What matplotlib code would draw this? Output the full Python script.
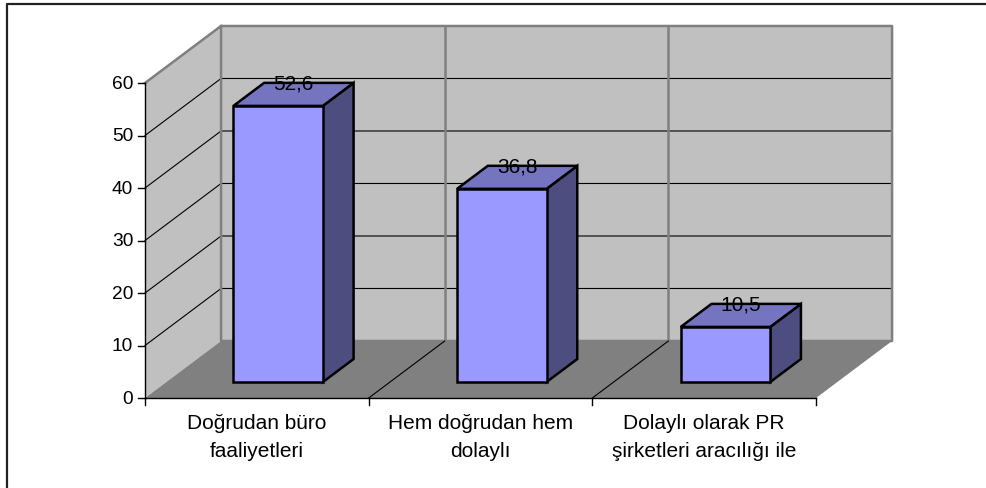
import matplotlib
matplotlib.use('Agg')
import matplotlib.pyplot as plt
from matplotlib.patches import Polygon
from matplotlib.lines import Line2D

categories = ['Doğrudan büro\nfaaliyetleri', 'Hem doğrudan hem\ndolaylı',
              'Dolaylı olarak PR\nşirketleri aracılığı ile']
values = [52.6, 36.8, 10.5]
value_labels = ['52,6', '36,8', '10,5']
yticks = [0, 10, 20, 30, 40, 50, 60]

plt.rcParams['font.family'] = ['Liberation Sans', 'DejaVu Sans']

# pseudo 3d geometry (in data units)
DX, DY = 0.34, 10.86        # depth shift of the back wall
F0, F1 = 0.28, 0.684        # bar front / back as fraction of depth
BAR_W = 0.40
YMAX = 60
n = len(values)

wall = '#c0c0c0'
floor = '#808080'
edge = '#808080'

fig = plt.figure(figsize=(9.86, 4.89), dpi=100)
ax = fig.add_axes([0, 0, 1, 1])
ax.set_xlim(-0.6483, 3.760)
ax.set_ylim(-17.14, 76.0)
ax.axis('off')

# outer frame (left + top only visible)
fig.add_artist(Line2D([0.0071, 0.0071, 1.0], [0.0, 0.9898, 0.9898],
                      transform=fig.transFigure, color='#222222', lw=1.6))

# walls
ax.add_patch(Polygon([(0, 0), (DX, DY), (DX, YMAX + DY), (0, YMAX)],
                     closed=True, fc=wall, ec='none', zorder=1))
ax.add_patch(Polygon([(DX, DY), (n + DX, DY), (n + DX, YMAX + DY), (DX, YMAX + DY)],
                     closed=True, fc=wall, ec='none', zorder=1))

# grid lines
for t in yticks[1:]:
    ax.plot([0, DX, n + DX], [t, t + DY, t + DY], color='black', lw=0.8, zorder=2)
for i in range(1, n):
    ax.plot([i + DX, i + DX], [DY, YMAX + DY], color=edge, lw=1.8, zorder=2)

# wall edges
ax.plot([0, DX, n + DX, n + DX, DX, DX], [YMAX, YMAX + DY, YMAX + DY, DY, DY, YMAX + DY],
        color=edge, lw=1.8, zorder=2)

# floor
ax.add_patch(Polygon([(0, 0), (n, 0), (n + DX, DY), (DX, DY)],
                     closed=True, fc=floor, ec='none', zorder=3))
for i in range(1, n):
    ax.plot([i, i + DX], [0, DY], color='black', lw=0.8, zorder=4)

# axes
ax.plot([0, 0], [0, YMAX], color='black', lw=1.0, zorder=5)
ax.plot([0, n], [0, 0], color='black', lw=1.0, zorder=5)
for t in yticks:
    ax.plot([-0.03, 0], [t, t], color='black', lw=1.0, zorder=5)
    ax.text(-0.053, t, str(t), ha='right', va='center', fontsize=13.8)
for i in range(n + 1):
    ax.plot([i, i], [0, -1.3], color='black', lw=1.0, zorder=5)
for i, c in enumerate(categories):
    ax.text(i + 0.5, -7.4, c, ha='center', va='center', fontsize=15,
            linespacing=1.6)

# bars
for i, v in enumerate(values):
    x0 = i + 0.5 - BAR_W / 2 + F0 * DX
    x1 = x0 + BAR_W
    y0 = F0 * DY
    ddx = (F1 - F0) * DX
    ddy = (F1 - F0) * DY
    front = [(x0, y0), (x1, y0), (x1, y0 + v), (x0, y0 + v)]
    top = [(x0, y0 + v), (x1, y0 + v), (x1 + ddx, y0 + v + ddy), (x0 + ddx, y0 + v + ddy)]
    side = [(x1, y0), (x1 + ddx, y0 + ddy), (x1 + ddx, y0 + v + ddy), (x1, y0 + v)]
    kw = dict(closed=True, ec='black', lw=1.8, joinstyle='miter', zorder=6)
    ax.add_patch(Polygon(side, fc='#4d4d80', **kw))
    ax.add_patch(Polygon(top, fc='#7474c0', **kw))
    ax.add_patch(Polygon(front, fc='#9999ff', **kw))
    ax.text((x0 + x1) / 2 + ddx / 2, y0 + v + ddy / 2 + 0.3, value_labels[i],
            ha='center', va='bottom', fontsize=15, zorder=7)

fig.savefig('out.png', dpi=100)
